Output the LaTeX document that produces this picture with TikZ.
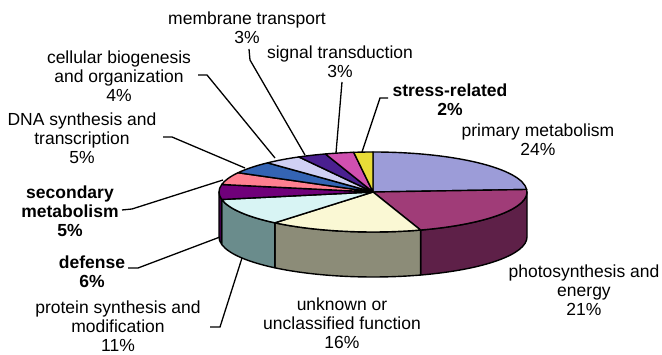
\documentclass[tikz,border=0pt]{standalone}
\usepackage{fontspec}
\setmainfont{Liberation Sans}
\usetikzlibrary{calc}

\definecolor{primtop}{HTML}{9C9CD8}
\definecolor{phototop}{HTML}{A03C78}
\definecolor{photoside}{HTML}{5E2048}
\definecolor{unktop}{HTML}{FAF8D4}
\definecolor{unkside}{HTML}{8C8C78}
\definecolor{prottop}{HTML}{D8F4F4}
\definecolor{protside}{HTML}{6A8C8C}
\definecolor{deftop}{HTML}{70007A}
\definecolor{defside}{HTML}{40004A}
\definecolor{sectop}{HTML}{FF8090}
\definecolor{dnatop}{HTML}{3464B4}
\definecolor{celltop}{HTML}{D0D0F4}
\definecolor{memtop}{HTML}{4A2090}
\definecolor{sigtop}{HTML}{D050B0}
\definecolor{strtop}{HTML}{E8DC38}

\tikzset{
  lbl/.style={align=center, inner sep=0pt, font=\fontsize{17.5}{19}\selectfont},
  blbl/.style={lbl, font=\fontsize{17.5}{19}\selectfont\bfseries},
  lead/.style={line width=1.3pt},
  slice/.style={draw=black, line width=1.4pt, line join=round},
}

\begin{document}
\begin{tikzpicture}[x=1pt,y=1pt]
  \useasboundingbox (0,0) rectangle (662,355);
  \coordinate (O) at (373,163);

  % front sides of the pie
  \foreach \a/\b/\c in {0/-72/photoside, -72/-129.6/unkside, -129.6/-169.2/protside, -169.2/-180/defside}
    \draw[slice, fill=\c] ($(O)+(\a:154pt and 40pt)$)
      arc[start angle=\a, end angle=\b, x radius=154pt, y radius=40pt] -- ++(0,-45)
      arc[start angle=\b, end angle=\a, x radius=154pt, y radius=40pt] -- cycle;

  % top faces
  \foreach \a/\b/\c in {90/3.6/primtop, 3.6/-72/phototop, -72/-129.6/unktop,
      -129.6/-169.2/prottop, -169.2/-190.8/deftop, -190.8/-208.8/sectop,
      -208.8/-226.8/dnatop, -226.8/-241.2/celltop, -241.2/-252/memtop,
      -252/-262.8/sigtop, -262.8/-270/strtop}
    \draw[slice, fill=\c] (O) -- ($(O)+(\a:154pt and 40pt)$)
      arc[start angle=\a, end angle=\b, x radius=154pt, y radius=40pt] -- cycle;

  % labels
  \node[lbl] (mt) at (247,327) {membrane transport\\3\%};
  \node[lbl] (st) at (340,293.5) {signal transduction\\3\%};
  \node[blbl] (sr) at (450,255.5) {stress-related\\2\%};
  \node[lbl] (pm) at (538,215.5) {primary metabolism\\24\%};
  \node[lbl] (pe) at (584,64.5) {photosynthesis and\\energy\\21\%};
  \node[lbl] (uf) at (342,31.5) {unknown or\\unclassified function\\16\%};
  \node[lbl] (ps) at (118,29) {protein synthesis and\\modification\\11\%};
  \node[blbl] (df) at (92,83.5) {defense\\6\%};
  \node[blbl] (sm) at (70,143.5) {secondary\\metabolism\\5\%};
  \node[lbl] (dn) at (82,216.5) {DNA synthesis and\\transcription\\5\%};
  \node[lbl] (cb) at (119,278.5) {cellular biogenesis\\and organization\\4\%};

  % leader lines
  \coordinate (mt-a) at (249,306); \coordinate (mt-b) at (250,295); \coordinate (mt-c) at (305,200);
  \coordinate (st-a) at (342,273); \coordinate (st-c) at (336,202);
  \coordinate (sr-a) at (388,257); \coordinate (sr-b) at (380,257); \coordinate (sr-c) at (362,203);
  \coordinate (ps-a) at (210,28); \coordinate (ps-b) at (220,28); \coordinate (ps-c) at (242,97);
  \coordinate (df-a) at (128,87); \coordinate (df-b) at (138,87); \coordinate (df-c) at (220,118);
  \coordinate (sm-a) at (122,145); \coordinate (sm-b) at (132,146); \coordinate (sm-c) at (223,175);
  \coordinate (dn-a) at (163,218); \coordinate (dn-b) at (172,218); \coordinate (dn-c) at (245,187);
  \coordinate (cb-a) at (198,280); \coordinate (cb-b) at (207,280); \coordinate (cb-c) at (275,197);

  \draw[lead] (mt-a) -- (mt-b) -- (mt-c);
  \draw[lead] (st-a) -- (st-c);
  \draw[lead] (sr-a) -- (sr-b) -- (sr-c);
  \draw[lead] (ps-a) -- (ps-b) -- (ps-c);
  \draw[lead] (df-a) -- (df-b) -- (df-c);
  \draw[lead] (sm-a) -- (sm-b) -- (sm-c);
  \draw[lead] (dn-a) -- (dn-b) -- (dn-c);
  \draw[lead] (cb-a) -- (cb-b) -- (cb-c);
\end{tikzpicture}
\end{document}
